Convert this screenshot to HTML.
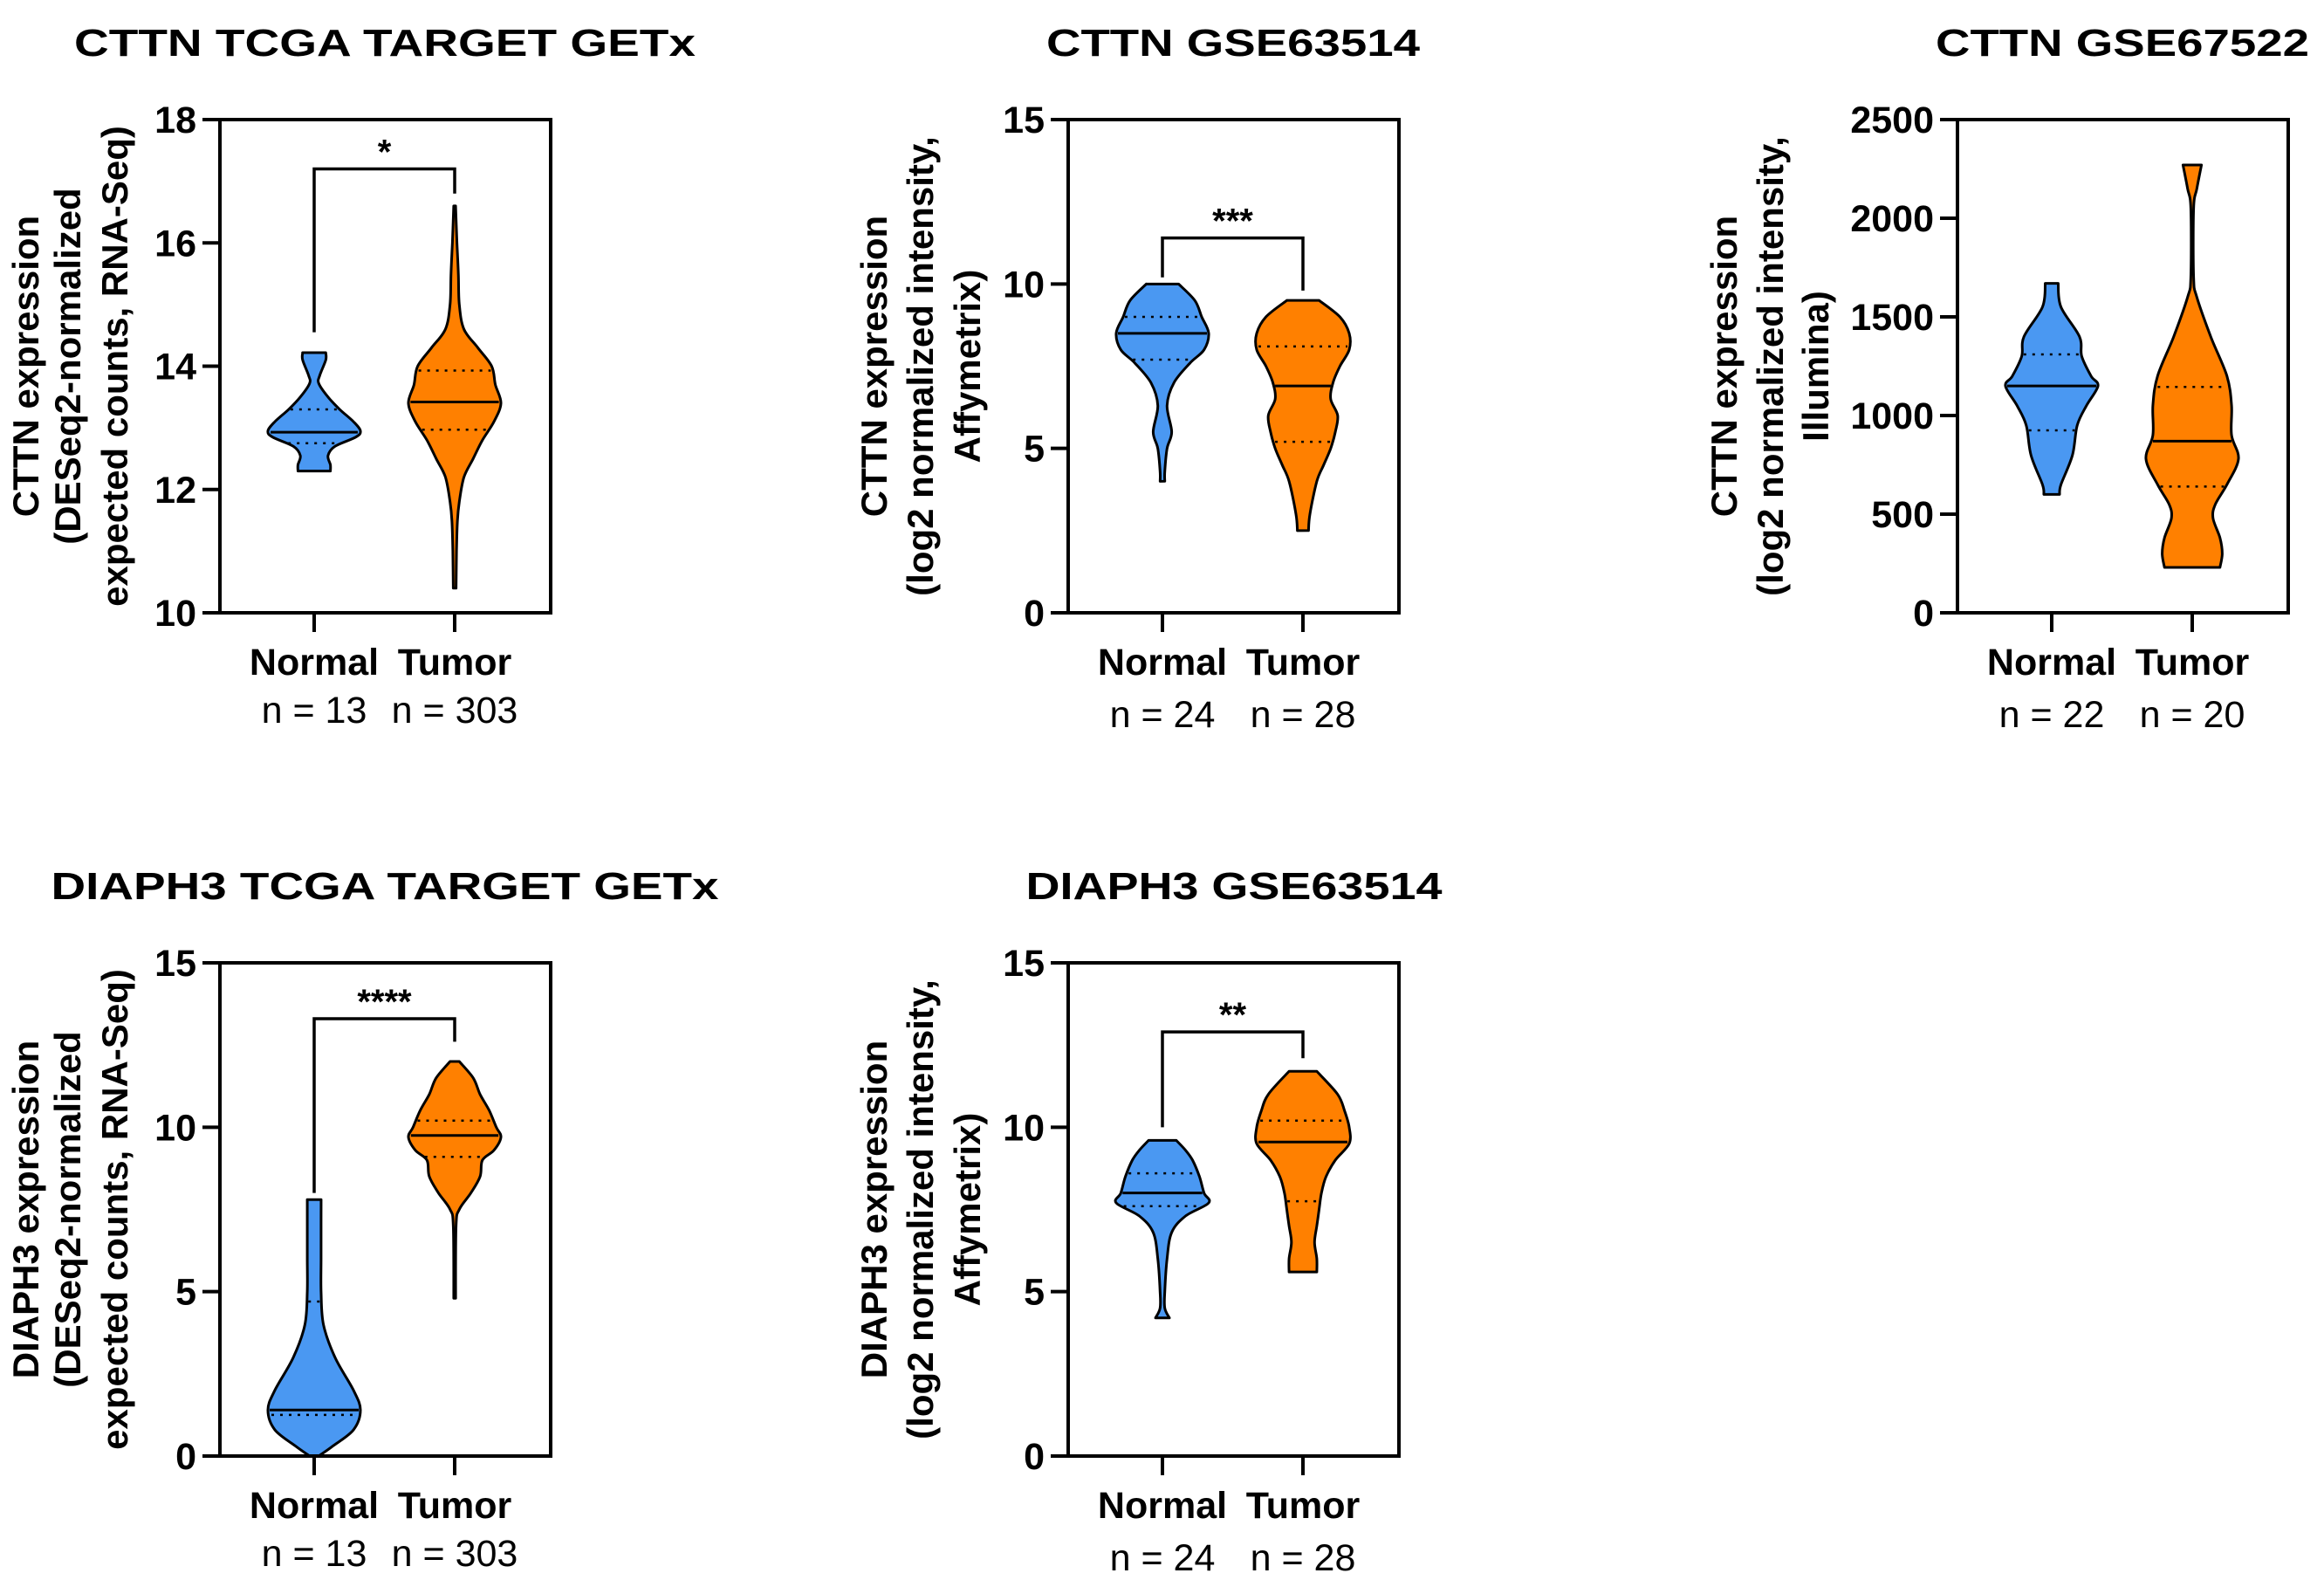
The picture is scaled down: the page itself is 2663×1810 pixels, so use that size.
<!DOCTYPE html>
<html><head><meta charset="utf-8"><style>
html,body{margin:0;padding:0;background:#fff;}
svg{display:block;font-family:"Liberation Sans",Arial,sans-serif;}
</style></head><body>
<svg id="fig" width="2663" height="1810" viewBox="0 0 2663 1810" xmlns="http://www.w3.org/2000/svg"></svg>
<script>
// ---- data ----
const categories = ["Normal", "Tumor"];
const panelTitles = ["CTTN TCGA TARGET GETx","CTTN GSE63514","CTTN GSE67522","DIAPH3 TCGA TARGET GETx","DIAPH3 GSE63514"];
const nCounts = [["n = 13","n = 303"],["n = 24","n = 28"],["n = 22","n = 20"],["n = 13","n = 303"],["n = 24","n = 28"]];
const yLabels = [
 ["CTTN expression","(DESeq2-normalized","expected counts, RNA-Seq)"],
 ["CTTN expression","(log2 normalized intensity,","Affymetrix)"],
 ["CTTN expression","(log2 normalized intensity,","Illumina)"],
 ["DIAPH3 expression","(DESeq2-normalized","expected counts, RNA-Seq)"],
 ["DIAPH3 expression","(log2 normalized intensity,","Affymetrix)"]];
const yMin = [10,0,0,0,0];
const yMax = [18,15,2500,15,15];
const yTicks = [[10,12,14,16,18],[0,5,10,15],[0,500,1000,1500,2000,2500],[0,5,10,15],[0,5,10,15]];
// violin profiles: values (top to bottom) and relative density
const p1NormalV = [14.22,14.1,13.85,13.72,13.5,13.3,13.1,12.95,12.85,12.7,12.55,12.4,12.3];
const p1NormalD = [0.25,0.25,0.12,0.1,0.3,0.55,0.85,1.0,0.9,0.45,0.3,0.35,0.35];
const p1TumorV = [16.6,16.0,15.5,15.0,14.6,14.3,14.0,13.7,13.4,13.1,12.8,12.5,12.2,11.8,11.5,11.0,10.4];
const p1TumorD = [0.02,0.05,0.08,0.1,0.2,0.5,0.8,0.88,1.0,0.85,0.6,0.4,0.2,0.1,0.06,0.04,0.03];
const p2NormalV = [10,9.5,9,8.5,8,7.6,7,6.3,5.5,5,4.3,4];
const p2NormalD = [0.35,0.7,0.85,1.0,0.9,0.6,0.25,0.1,0.2,0.1,0.05,0.05];
const p2TumorV = [9.5,9,8.5,8,7.5,7,6.5,6,5.5,5,4.5,4,3,2.5];
const p2TumorD = [0.35,0.8,1.0,1.0,0.8,0.65,0.6,0.75,0.7,0.6,0.45,0.3,0.15,0.12];
const p3NormalV = [1670,1550,1400,1300,1200,1150,1050,950,800,650,600];
const p3NormalD = [0.14,0.2,0.6,0.65,0.85,1.0,0.75,0.55,0.45,0.2,0.17];
const p3TumorV = [2270,2150,2050,1700,1600,1400,1200,1050,900,780,650,550,480,380,300,230];
const p3TumorD = [0.2,0.1,0.03,0.03,0.1,0.4,0.75,0.85,0.85,1.0,0.75,0.5,0.45,0.6,0.65,0.6];
const p4NormalV = [7.8,7,6,5,4,3,2,1.4,0.8,0.3,0];
const p4NormalD = [0.15,0.15,0.15,0.15,0.2,0.45,0.85,1.0,0.85,0.4,0.1];
const p4TumorV = [12,11.5,11,10.5,10,9.7,9.3,9,8.5,8,7.5,7,4.8];
const p4TumorD = [0.1,0.4,0.55,0.75,0.9,1.0,0.85,0.6,0.55,0.35,0.1,0.03,0.02];
const p5NormalV = [9.6,9.3,9,8.5,8,7.7,7.3,6.8,6,5,4.5,4.2];
const p5NormalD = [0.3,0.5,0.65,0.8,0.9,1.0,0.5,0.2,0.1,0.05,0.05,0.15];
const p5TumorV = [11.7,11,10.5,10,9.5,9,8.5,8,7.5,7,6.5,6,5.6];
const p5TumorD = [0.3,0.75,0.9,1.0,1.0,0.7,0.5,0.4,0.35,0.3,0.25,0.3,0.3];
const profilesV = [[p1NormalV,p1TumorV],[p2NormalV,p2TumorV],[p3NormalV,p3TumorV],[p4NormalV,p4TumorV],[p5NormalV,p5TumorV]];
const profilesD = [[p1NormalD,p1TumorD],[p2NormalD,p2TumorD],[p3NormalD,p3TumorD],[p4NormalD,p4TumorD],[p5NormalD,p5TumorD]];
const medians = [[12.93,13.42],[8.5,6.9],[1150,870],[1.4,9.75],[8.0,9.55]];
const q3s = [[13.3,13.93],[9.0,8.1],[1310,1145],[4.7,10.2],[8.6,10.2]];
const q1s = [[12.75,12.97],[7.7,5.2],[925,640],[1.25,9.1],[7.6,7.75]];
// significance: [barValue, leftLegEnd, rightLegEnd, stars] (null = none)
const sigBars = [[17.2,14.55,16.8,"*"],[11.4,10.2,9.8,"***"],null,[13.3,8.0,12.6,"****"],[12.9,10.0,12.1,"**"]];

// ---- layout ----
const panels = [
 {x:252,y:137,tx:441,ty:64,ylx:[29,77,131]},
 {x:1224,y:137,tx:1413,ty:64,ylx:[1001,1054,1108]},
 {x:2243,y:137,tx:2432,ty:64,ylx:[1975,2028,2080]},
 {x:252,y:1103,tx:441,ty:1030,ylx:[29,77,131]},
 {x:1224,y:1103,tx:1414,ty:1030,ylx:[1001,1054,1108]}];
const titleW = [712,428,428,765,477];
const W=379,H=565,HALF=53,colors=["#4a98f2","#ff8000"],catOff=[108,269];
const svg=document.getElementById('fig');
const NS="http://www.w3.org/2000/svg";
function mk(tag,attrs,parent){const e=document.createElementNS(NS,tag);for(const k in attrs)e.setAttribute(k,attrs[k]);(parent||svg).appendChild(e);return e;}

panels.forEach((P,pi)=>{
  const g=mk('g',{});
  
  
  const ys=v=>P.y+H-(v-yMin[pi])/(yMax[pi]-yMin[pi])*H;
  const t=mk('text',{x:P.tx,y:P.ty,'text-anchor':'middle','font-size':44,'font-weight':'bold',textLength:titleW[pi],lengthAdjust:'spacingAndGlyphs'},g);
  t.textContent=panelTitles[pi];
  
  
  const cy=P.y+H/2;
  yLabels[pi].forEach((s,li)=>{
    const lt=mk('text',{x:0,y:0,transform:`translate(${P.ylx[li]+15},${cy}) rotate(-90)`,'text-anchor':'middle','font-size':42,'font-weight':'bold'},g);
    lt.textContent=s;
    
    
  });
  categories.forEach((c,ci)=>{
    const cx=P.x+catOff[ci];
    const V=profilesV[pi][ci],D=profilesD[pi][ci];
    const R=V.map((v,i)=>[cx+D[i]*HALF,ys(v)]);
    const L=V.map((v,i)=>[cx-D[i]*HALF,ys(v)]).reverse();
    function smooth(pts){let d='';for(let i=0;i<pts.length-1;i++){const p0=pts[Math.max(i-1,0)],p1=pts[i],p2=pts[i+1],p3=pts[Math.min(i+2,pts.length-1)];
      const c1=[p1[0]+(p2[0]-p0[0])/6,p1[1]+(p2[1]-p0[1])/6],c2=[p2[0]-(p3[0]-p1[0])/6,p2[1]-(p3[1]-p1[1])/6];
      d+=` C${c1[0].toFixed(1)},${c1[1].toFixed(1)} ${c2[0].toFixed(1)},${c2[1].toFixed(1)} ${p2[0].toFixed(1)},${p2[1].toFixed(1)}`;}return d;}
    let d=`M${L[L.length-1][0]},${L[L.length-1][1]} L${R[0][0]},${R[0][1]}`+smooth(R)+` L${L[0][0]},${L[0][1]}`+smooth(L)+' Z';
    const vp=mk('path',{d:d,fill:colors[ci],stroke:'#000','stroke-width':3,'stroke-linejoin':'round'},g);
    
    
    function wAt(v){for(let i=0;i<V.length-1;i++){if(v<=V[i]&&v>=V[i+1]){const f=(V[i]-v)/(V[i]-V[i+1]);return D[i]+(D[i+1]-D[i])*f;}}return 0.2;}
    [[medians,false],[q3s,true],[q1s,true]].forEach(([arr,dot])=>{
      const v=arr[pi][ci],w=wAt(v)*HALF-2;
      const ln=mk('line',{x1:cx-w,x2:cx+w,y1:ys(v),y2:ys(v),stroke:'#000','stroke-width':dot?2.5:3,'stroke-dasharray':dot?'3 7':'none'},g);
      
      
    });
    const xl=mk('text',{x:cx,y:P.y+H+71,'text-anchor':'middle','font-size':43,'font-weight':'bold'},g);
    xl.textContent=c;
    
    
    const nl=mk('text',{x:cx,y:P.y+H+(pi%3===0?126:131),'text-anchor':'middle','font-size':43},g);
    nl.textContent=nCounts[pi][ci];
    
    
    const xt=mk('line',{x1:cx,x2:cx,y1:P.y+H,y2:P.y+H+22,stroke:'#000','stroke-width':4},g);
    
    
  });
  const fr=mk('rect',{x:P.x,y:P.y,width:W,height:H,fill:'none',stroke:'#000','stroke-width':4},g);
  
  
  yTicks[pi].forEach(v=>{
    const tl=mk('line',{x1:P.x-20,x2:P.x,y1:ys(v),y2:ys(v),stroke:'#000','stroke-width':4},g);
    
    
    const tt=mk('text',{x:P.x-27,y:ys(v)+15,'text-anchor':'end','font-size':43,'font-weight':'bold'},g);
    tt.textContent=v;
    
    
  });
  const s=sigBars[pi];
  if(s){
    const x1=P.x+catOff[0],x2=P.x+catOff[1];
    const b=mk('path',{d:`M${x1},${ys(s[1])} L${x1},${ys(s[0])} L${x2},${ys(s[0])} L${x2},${ys(s[2])}`,fill:'none',stroke:'#000','stroke-width':3.5},g);
    
    
    const st=mk('text',{x:(x1+x2)/2,y:ys(s[0])-6,'text-anchor':'middle','font-size':40,'font-weight':'bold'},g);
    st.textContent=s[3];
    
    
  }
});
</script>
</body></html>
